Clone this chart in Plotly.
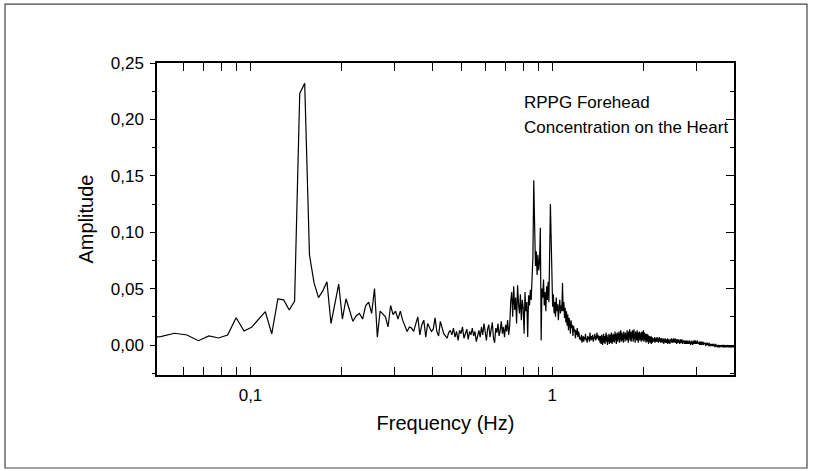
import plotly.graph_objects as go

# FFT bin spacing (Hz) and index of first plotted bin
BIN_HZ = 0.0056
FIRST_BIN = 8

# amplitude per bin
amp_low = [0.0068, 0.0074, 0.0104, 0.0089, 0.0038, 0.0080, 0.0062, 0.0089, 0.0242, 0.0124,
           0.0157, 0.0225, 0.0295, 0.0098, 0.0408, 0.0400, 0.0310, 0.0390]

amp_resp = [0.223, 0.232, 0.080, 0.055, 0.042, 0.048, 0.056, 0.019, 0.036, 0.054,
            0.023, 0.041, 0.031, 0.021, 0.026, 0.028, 0.023, 0.035, 0.038, 0.028,
            0.050, 0.007, 0.030, 0.027, 0.025, 0.016, 0.035, 0.027, 0.030, 0.023,
            0.030, 0.022, 0.017, 0.012, 0.016, 0.015, 0.012, 0.019, 0.025, 0.009,
            0.018, 0.022, 0.007, 0.019, 0.016, 0.012, 0.014, 0.024, 0.012, 0.008,
            0.021, 0.014, 0.010, 0.008, 0.006, 0.011, 0.013, 0.009]

amp_mid = [0.015, 0.007, 0.012, 0.004, 0.013, 0.010, 0.016, 0.006, 0.011, 0.014,
           0.005, 0.012, 0.009, 0.015, 0.008, 0.012, 0.003, 0.010, 0.013, 0.007,
           0.016, 0.009, 0.019, 0.012, 0.004, 0.014, 0.018, 0.007, 0.012, 0.020,
           0.006, 0.002, 0.015, 0.011, 0.019, 0.008, 0.013, 0.021, 0.010, 0.016,
           0.007, 0.018, 0.012, 0.022, 0.009, 0.017]

amp_cardiac = [0.038, 0.047, 0.025, 0.052, 0.031, 0.042, 0.019, 0.053, 0.036, 0.028,
               0.045, 0.022, 0.040, 0.033, 0.010, 0.047, 0.030, 0.038, 0.007, 0.044,
               0.035, 0.049, 0.040, 0.058, 0.078,
               0.146,
               0.085, 0.070, 0.083, 0.062, 0.080, 0.066, 0.074,
               0.104, 0.004,
               0.050, 0.042, 0.058, 0.035, 0.047, 0.030, 0.052, 0.040, 0.056, 0.038, 0.090,
               0.125, 0.095,
               0.060, 0.034, 0.045, 0.028, 0.038, 0.025, 0.042, 0.030, 0.036, 0.022,
               0.033, 0.040, 0.028, 0.035, 0.030,
               0.055,
               0.030, 0.038, 0.024, 0.033, 0.020, 0.030, 0.017, 0.027, 0.013, 0.024,
               0.019, 0.010, 0.022, 0.015, 0.018, 0.008, 0.017, 0.012, 0.014, 0.006,
               0.013, 0.009, 0.015, 0.007, 0.012, 0.010, 0.005,
               0.007, 0.004, 0.009, 0.002, 0.006, 0.008, 0.003, 0.007, 0.005, 0.010,
               0.004, 0.006, 0.002, 0.008, 0.005, 0.007, 0.003, 0.011, 0.006, 0.004,
               0.008, 0.005, 0.009, 0.003, 0.007, 0.006, 0.010, 0.004, 0.008, 0.005,
               0.011, 0.006, 0.009, 0.004, 0.008, 0.007]

amp_tail = [0.002, 0.008, 0.001, 0.009, 0.004, 0.000, 0.007, 0.010, 0.002, 0.008,
            0.001, 0.006, 0.011, 0.003, 0.009, 0.000, 0.007, 0.003, 0.010, 0.001,
            0.005, 0.009, 0.002, 0.011, 0.005, 0.001, 0.008, 0.010, 0.003, 0.009,
            0.002, 0.012, 0.004, 0.010, 0.001, 0.007, 0.011, 0.003, 0.009, 0.005,
            0.012, 0.002, 0.010, 0.006, 0.013, 0.003, 0.008, 0.011, 0.004, 0.009,
            0.002, 0.012, 0.006, 0.010, 0.003, 0.011, 0.007,
            0.010, 0.004, 0.013, 0.006, 0.011, 0.002, 0.012, 0.007, 0.014, 0.004,
            0.009, 0.012, 0.003, 0.011, 0.006, 0.013, 0.007, 0.003, 0.010, 0.014,
            0.005, 0.009, 0.002, 0.012, 0.007, 0.011, 0.004, 0.013, 0.006, 0.009,
            0.002, 0.011, 0.007, 0.012, 0.004, 0.009, 0.005, 0.011, 0.003, 0.008,
            0.012, 0.004, 0.009, 0.006, 0.013, 0.003, 0.008, 0.011, 0.004, 0.007,
            0.010, 0.002, 0.008, 0.005, 0.010, 0.003, 0.007, 0.009, 0.001, 0.006,
            0.008, 0.003, 0.007, 0.002, 0.006, 0.008, 0.001, 0.005, 0.007, 0.002,
            0.006, 0.004,
            0.005, 0.003, 0.006, 0.004, 0.007, 0.002, 0.005, 0.004, 0.006, 0.003,
            0.005, 0.007, 0.003, 0.004, 0.006, 0.002, 0.005, 0.004, 0.007, 0.003,
            0.004, 0.006, 0.002, 0.005, 0.003, 0.006, 0.004, 0.002, 0.005, 0.003,
            0.006, 0.004, 0.001, 0.005, 0.003, 0.004, 0.006, 0.002, 0.004, 0.003,
            0.005, 0.002, 0.004, 0.003, 0.006, 0.001, 0.004, 0.003, 0.005, 0.002,
            0.004, 0.003, 0.001, 0.005, 0.002, 0.004, 0.003, 0.006, 0.002, 0.003,
            0.005, 0.002, 0.004, 0.003, 0.006, 0.004, 0.002, 0.005, 0.003, 0.004,
            0.006, 0.002, 0.004, 0.003, 0.005, 0.001, 0.004, 0.003, 0.005, 0.002,
            0.004, 0.003, 0.005, 0.002, 0.003, 0.004, 0.001, 0.004, 0.003, 0.005,
            0.002, 0.003, 0.004, 0.002, 0.005, 0.003, 0.001, 0.004, 0.002, 0.003,
            0.004, 0.002, 0.003, 0.001, 0.004, 0.003, 0.002, 0.004, 0.001, 0.003,
            0.002, 0.004, 0.003, 0.001, 0.003, 0.002, 0.004, 0.001, 0.002, 0.003,
            0.001, 0.003, 0.002, 0.004, 0.001, 0.002, 0.003, 0.000, 0.002, 0.003,
            0.001, 0.002, 0.004, 0.001, 0.002, 0.000, 0.003, 0.001, 0.002, 0.001,
            0.004, 0.002, 0.003, 0.001, 0.003, 0.002, 0.004, 0.001, 0.002, 0.003,
            0.001, 0.003, 0.002, 0.004, 0.001, 0.002, 0.003, 0.001, 0.002, 0.003,
            0.001, 0.002, 0.003, 0.000, 0.002, 0.001, 0.003, 0.002, 0.000, 0.002,
            0.001, 0.003, 0.001, 0.002, 0.000, 0.002, 0.001, 0.003, 0.001, 0.002,
            0.000, 0.001, 0.002, 0.000, 0.001, 0.002, 0.001, 0.000, 0.002, 0.001,
            -0.001, 0.001, 0.002, 0.000, 0.001, 0.000, 0.002, 0.001, 0.000, 0.001,
            0.000, 0.001, -0.001, 0.001, 0.000, 0.002, 0.000, 0.001, -0.001, 0.000,
            0.001, 0.000, 0.001, -0.001, 0.000, 0.001, 0.000, -0.001, 0.001, 0.000,
            -0.001, 0.000, 0.001, -0.001, 0.000, 0.000, -0.001, 0.001, 0.000, -0.001,
            0.000, -0.002, 0.000, -0.001, 0.000, 0.001, -0.001, 0.000, -0.001, 0.000,
            -0.001, 0.000, -0.002, 0.000, -0.001, 0.000, -0.001, -0.002, 0.000, -0.001,
            0.000, -0.001, -0.002, 0.000, -0.001, -0.001, 0.000, -0.002, -0.001, 0.000,
            -0.001, -0.002, 0.000, -0.001, -0.002, -0.001, 0.000, -0.002, -0.001, -0.001,
            -0.002, 0.000, -0.001, -0.002, -0.001, -0.001, -0.002, 0.000, -0.001, -0.002,
            -0.001, -0.002, -0.001, 0.000, -0.002, -0.001, -0.002, -0.001, -0.001, -0.002,
            -0.001, -0.002, 0.000, -0.001, -0.002, -0.001, -0.002, -0.001, -0.002, -0.001,
            -0.002, -0.001, -0.001, -0.002, -0.001, -0.002, -0.002, -0.001, -0.002, -0.001,
            -0.002, -0.001, -0.002, -0.002, -0.001, -0.002, -0.001, -0.002, -0.001, -0.002,
            -0.001, -0.002, -0.002, -0.001, -0.002, -0.001, -0.002, -0.001, -0.002]

x_tick_vals = [0.1, 1]
x_tick_text = ["0,1", "1"]
x_minor_vals = [0.06, 0.07, 0.08, 0.09, 0.2, 0.3, 0.4, 0.5, 0.6, 0.7, 0.8, 0.9, 2, 3, 4]
legend_lines = ["RPPG Forehead", "Concentration on the Heart"]

amplitude = amp_low + amp_resp + amp_mid + amp_cardiac + amp_tail
freq = [BIN_HZ * (FIRST_BIN + i) for i in range(len(amplitude))]

FONT = "Liberation Sans, Arial, sans-serif"
y_range = [-0.0266, 0.25]

fig = go.Figure()
fig.add_trace(go.Scatter(x=freq, y=amplitude, mode="lines",
                         line=dict(color="black", width=1.2), hoverinfo="skip"))
# copy on the right-hand axis so its inward ticks get drawn
fig.add_trace(go.Scatter(x=freq, y=amplitude, mode="lines", yaxis="y2",
                         line=dict(color="black", width=1), opacity=0, hoverinfo="skip"))

fig.update_layout(
    width=819, height=471,
    margin=dict(l=157, r=85, t=63, b=96),
    paper_bgcolor="white", plot_bgcolor="white",
    showlegend=False,
    separators=",.",
    font=dict(family=FONT, size=17, color="black"),
    xaxis=dict(
        type="log", range=[-1.3098, 0.602],
        tickvals=x_tick_vals, ticktext=x_tick_text,
        ticks="inside", ticklen=8, tickwidth=1.2, tickcolor="black",
        minor=dict(tickvals=x_minor_vals, ticks="inside", ticklen=4, tickcolor="black"),
        showline=True, linecolor="black", linewidth=1.5, mirror="allticks",
        showgrid=False, zeroline=False, ticklabelstandoff=4,
        title=dict(text="Frequency (Hz)", standoff=12),
    ),
    yaxis=dict(
        range=y_range, tick0=0, dtick=0.05, tickformat=".2f",
        ticks="outside", ticklen=5, tickwidth=1.2, tickcolor="black",
        minor=dict(dtick=0.025, tick0=0, ticks="outside", ticklen=3, tickcolor="black"),
        showline=True, linecolor="black", linewidth=1.5, mirror=True,
        showgrid=False, zeroline=False, ticklabelstandoff=3,
        title=dict(text="Amplitude", standoff=12),
    ),
    yaxis2=dict(
        overlaying="y", side="right", range=y_range, tick0=0, dtick=0.05,
        ticks="inside", ticklen=8, tickwidth=1.2, tickcolor="black",
        minor=dict(dtick=0.025, tick0=0, ticks="inside", ticklen=4, tickcolor="black"),
        showticklabels=False, showline=False, showgrid=False, zeroline=False,
    ),
)

for text, ypos in zip(legend_lines, [0.872, 0.792]):
    fig.add_annotation(text=text, xref="paper", yref="paper", x=0.632, y=ypos,
                       xanchor="left", yanchor="middle", showarrow=False,
                       font=dict(family=FONT, size=17, color="black"))

# outer frame around the whole figure
fig.add_shape(type="rect", xref="paper", yref="paper",
              x0=-0.2634, x1=1.1265, y0=-0.298, y1=1.189,
              line=dict(color="#444444", width=1.2))

# page body has an 8px default margin; drop it so the figure sits at the window corner
fig.write_html("out.html", config={"displayModeBar": False},
               post_script="document.body.style.margin='0px';")
